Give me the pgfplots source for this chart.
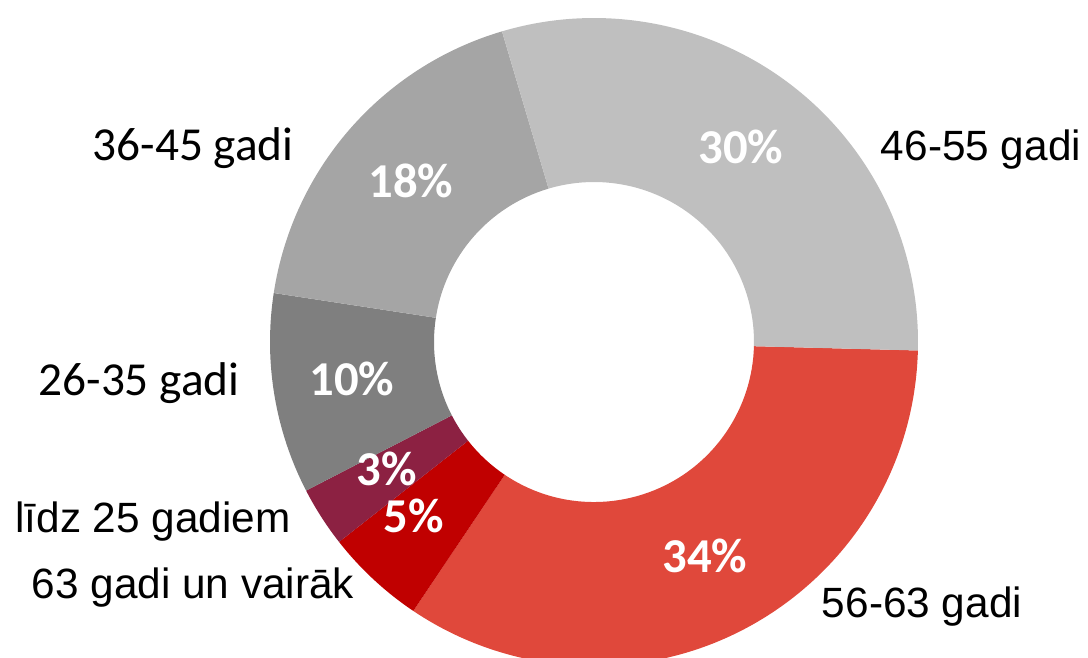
\documentclass[border=0pt]{standalone}
\usepackage{fontspec}
\setmainfont{Carlito}
\newfontfamily\lab{Liberation Sans}
\usepackage{pgfplots}
\usepackage{pgfplotstable}
\pgfplotsset{compat=1.18}

\definecolor{cA}{HTML}{E0483B}% 56-63 gadi
\definecolor{cB}{HTML}{C00000}% 63 gadi un vairak
\definecolor{cC}{HTML}{8C2142}% lidz 25 gadiem
\definecolor{cD}{HTML}{7F7F7F}% 26-35 gadi
\definecolor{cE}{HTML}{A5A5A5}% 36-45 gadi
\definecolor{cF}{HTML}{BFBFBF}% 46-55 gadi

% shares in percent, clockwise from the right
\pgfplotstableread{
value
34
5
3
10
18
30
}\shares

\def\angstart{-1.5}
\xdef\cur{\angstart}
\foreach \i in {0,...,5}{%
  \pgfplotstablegetelem{\i}{value}\of\shares
  \pgfmathsetmacro\nxt{\cur-3.6*\pgfplotsretval}%
  \expandafter\xdef\csname ang\i\endcsname{\nxt}%
  \xdef\cur{\nxt}%
}
\newcommand\ang[1]{\csname ang#1\endcsname}

\newcommand\donutwedge[3]{%
  \fill[#3] (axis cs:594,315) ++(#1:97.2pt)
    arc[start angle=#1,end angle=#2,radius=97.2pt]
    -- ++(#2:-49.2pt)
    arc[start angle=#2,end angle=#1,radius=48pt] -- cycle;}

\begin{document}
\begin{tikzpicture}
\begin{axis}[
  name=ax,
  hide axis, scale only axis,
  width=326.4pt, height=197.1pt,
  xmin=0, xmax=1088, ymin=0, ymax=657,
  clip=true,
]
\donutwedge{\angstart}{\ang{0}}{cA}
\donutwedge{\ang{0}}{\ang{1}}{cB}
\donutwedge{\ang{1}}{\ang{2}}{cC}
\donutwedge{\ang{2}}{\ang{3}}{cD}
\donutwedge{\ang{3}}{\ang{4}}{cE}
\donutwedge{\ang{4}}{\ang{5}}{cF}

% percentage labels
\begin{scope}[every node/.style={anchor=base, inner sep=0pt, text=white, font=\bfseries\fontsize{14.6}{17}\selectfont}]
\node at (axis cs:705,85) {34\%};
\node at (axis cs:414,125) {5\%};
\node at (axis cs:387,172) {3\%};
\node at (axis cs:352,262) {10\%};
\node at (axis cs:411,460) {18\%};
\node at (axis cs:741,494) {30\%};
\end{scope}

% category labels
\begin{scope}[every node/.style={anchor=base, inner sep=0pt, text=black}]
\node[font=\lab\fontsize{12.7}{15}\selectfont] at (axis cs:922,40) {56-63 gadi};
\node[font=\lab\fontsize{12.7}{15}\selectfont] at (axis cs:193,59) {63 gadi un vairāk};
\node[font=\lab\fontsize{12.7}{15}\selectfont] at (axis cs:153,125) {līdz 25 gadiem};
\node[font=\fontsize{14.2}{17}\selectfont] at (axis cs:139,262) {26-35 gadi};
\node[font=\fontsize{14.2}{17}\selectfont] at (axis cs:193,497) {36-45 gadi};
\node[font=\lab\fontsize{12.7}{15}\selectfont] at (axis cs:981,497) {46-55 gadi};
\end{scope}
\end{axis}
\pgfresetboundingbox
\path[use as bounding box] (ax.south west) rectangle (ax.north east);
\end{tikzpicture}
\end{document}
